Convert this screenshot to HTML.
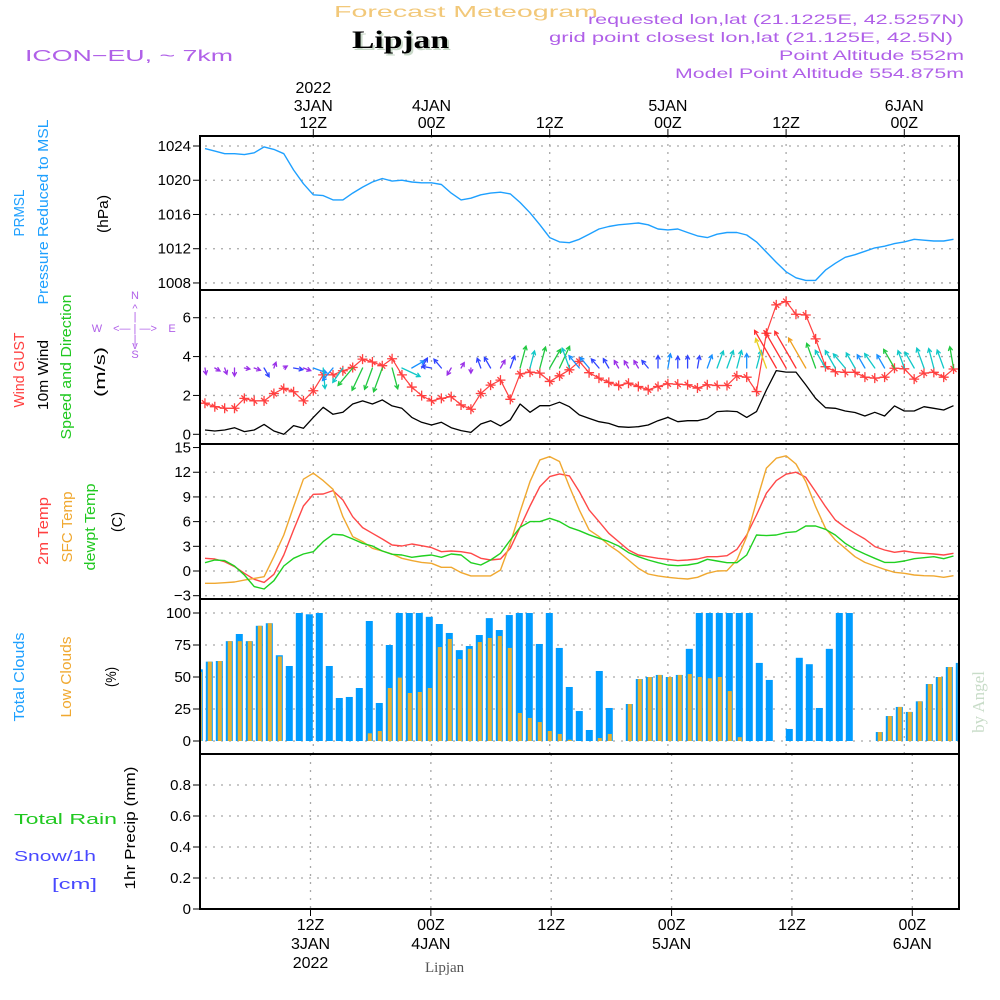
<!DOCTYPE html>
<html><head><meta charset="utf-8"><title>Forecast Meteogram Lipjan</title>
<style>
html,body{margin:0;padding:0;background:#fff;}
svg{display:block;font-family:"Liberation Sans",sans-serif;}
</style></head>
<body>
<svg id="chart" width="1000" height="1000" viewBox="0 0 1000 1000" xmlns="http://www.w3.org/2000/svg">
<g>
<text x="334" y="17" font-size="16" fill="#f2c879" textLength="264" lengthAdjust="spacingAndGlyphs">Forecast Meteogram</text>
<text x="354" y="50" font-size="25" font-weight="bold" font-family="Liberation Serif,serif" fill="#c8d8c8" textLength="97" lengthAdjust="spacingAndGlyphs">Lipjan</text>
<text x="352" y="48" font-size="25" font-weight="bold" font-family="Liberation Serif,serif" fill="#000" textLength="97" lengthAdjust="spacingAndGlyphs">Lipjan</text>
<text x="25" y="61" font-size="16" fill="#b060e8" textLength="208" lengthAdjust="spacingAndGlyphs">ICON−EU, ~ 7km</text>
<text x="588" y="24" font-size="14" fill="#b060e8" textLength="376" lengthAdjust="spacingAndGlyphs">requested lon,lat (21.1225E, 42.5257N)</text>
<text x="549" y="42" font-size="14" fill="#b060e8" textLength="404" lengthAdjust="spacingAndGlyphs">grid point closest lon,lat (21.125E, 42.5N)</text>
<text x="779" y="60" font-size="14" fill="#b060e8" textLength="185" lengthAdjust="spacingAndGlyphs">Point Altitude 552m</text>
<text x="675" y="78" font-size="14" fill="#b060e8" textLength="289" lengthAdjust="spacingAndGlyphs">Model Point Altitude 554.875m</text>
</g>
<g font-size="15">
<text transform="translate(24,213) rotate(-90)" text-anchor="middle" fill="#1ea0ff" textLength="47" lengthAdjust="spacingAndGlyphs">PRMSL</text>
<text transform="translate(48,212) rotate(-90)" text-anchor="middle" fill="#1ea0ff" textLength="185" lengthAdjust="spacingAndGlyphs">Pressure Reduced to MSL</text>
<text transform="translate(108,214) rotate(-90)" text-anchor="middle" fill="#000" textLength="38" lengthAdjust="spacingAndGlyphs">(hPa)</text>
<text transform="translate(24,370) rotate(-90)" text-anchor="middle" fill="#ff4040" textLength="75" lengthAdjust="spacingAndGlyphs">Wind GUST</text>
<text transform="translate(48,375) rotate(-90)" text-anchor="middle" fill="#000" textLength="70" lengthAdjust="spacingAndGlyphs">10m Wind</text>
<text transform="translate(71,367) rotate(-90)" text-anchor="middle" fill="#20c820" textLength="145" lengthAdjust="spacingAndGlyphs">Speed and Direction</text>
<text transform="translate(105,372) rotate(-90)" text-anchor="middle" fill="#000" textLength="50" lengthAdjust="spacingAndGlyphs">(m/s)</text>
<g fill="#b060e8" font-size="11" text-anchor="middle">
<text x="135" y="299">N</text><text x="135" y="312">^</text><text x="135" y="320">|</text>
<text x="97" y="332">W</text><text x="135" y="332">&lt;— | —&gt;</text><text x="172" y="332">E</text>
<text x="135" y="343">|</text><text x="135" y="349">v</text><text x="135" y="358">S</text>
</g>
<text transform="translate(48,531) rotate(-90)" text-anchor="middle" fill="#ff4040" textLength="68" lengthAdjust="spacingAndGlyphs">2m Temp</text>
<text transform="translate(72,527) rotate(-90)" text-anchor="middle" fill="#f0a830" textLength="71" lengthAdjust="spacingAndGlyphs">SFC Temp</text>
<text transform="translate(95,527) rotate(-90)" text-anchor="middle" fill="#20c820" textLength="87" lengthAdjust="spacingAndGlyphs">dewpt Temp</text>
<text transform="translate(122,522) rotate(-90)" text-anchor="middle" fill="#000" textLength="20" lengthAdjust="spacingAndGlyphs">(C)</text>
<text transform="translate(24,677) rotate(-90)" text-anchor="middle" fill="#1ea0ff" textLength="89" lengthAdjust="spacingAndGlyphs">Total Clouds</text>
<text transform="translate(71,677) rotate(-90)" text-anchor="middle" fill="#f0a830" textLength="81" lengthAdjust="spacingAndGlyphs">Low Clouds</text>
<text transform="translate(116,677) rotate(-90)" text-anchor="middle" fill="#000" textLength="20" lengthAdjust="spacingAndGlyphs">(%)</text>
<text x="14" y="824" fill="#20c820" textLength="103" lengthAdjust="spacingAndGlyphs">Total   Rain</text>
<text x="14" y="861" fill="#4848ff" textLength="82" lengthAdjust="spacingAndGlyphs">Snow/1h</text>
<text x="52" y="889" fill="#4848ff" textLength="45" lengthAdjust="spacingAndGlyphs">[cm]</text>
<text transform="translate(135,828) rotate(-90)" text-anchor="middle" fill="#000" textLength="123" lengthAdjust="spacingAndGlyphs">1hr Precip (mm)</text>
</g>
<text transform="translate(984,702) rotate(-90)" text-anchor="middle" font-family="Liberation Serif,serif" font-size="17" fill="#c8dcc8">by Angel</text>
<text x="425" y="972" font-family="Liberation Serif,serif" font-size="15" fill="#555">Lipjan</text>
<g id="plots"></g>
</svg>
<script>
// ---- data (hourly, t = hours after 00Z 3JAN 2022) ----
const hours = [1,2,3,4,5,6,7,8,9,10,11,12,13,14,15,16,17,18,19,20,21,22,23,24,25,26,27,28,29,30,31,32,33,34,35,36,37,38,39,40,41,42,43,44,45,46,47,48,49,50,51,52,53,54,55,56,57,58,59,60,61,62,63,64,65,66,67,68,69,70,71,72,73,74,75,76,77];
const pressure = [1023.7,1023.4,1023.1,1023.1,1023.0,1023.2,1023.9,1023.6,1023.1,1021.2,1019.6,1018.3,1018.2,1017.7,1017.7,1018.5,1019.2,1019.8,1020.2,1019.9,1020.0,1019.8,1019.7,1019.7,1019.5,1018.5,1017.7,1017.9,1018.3,1018.5,1018.6,1018.4,1017.4,1016.2,1014.8,1013.3,1012.8,1012.7,1013.1,1013.7,1014.3,1014.6,1014.8,1014.9,1015.0,1014.8,1014.3,1014.2,1014.3,1013.9,1013.5,1013.3,1013.7,1013.9,1013.9,1013.6,1012.8,1011.6,1010.4,1009.3,1008.6,1008.3,1008.3,1009.5,1010.3,1011.0,1011.3,1011.7,1012.1,1012.3,1012.6,1012.8,1013.1,1013.0,1012.9,1012.9,1013.1];
const wind10 = [0.22,0.17,0.22,0.34,0.14,0.22,0.51,0.17,0,0.45,0.31,0.87,1.39,1.03,1.13,1.56,1.72,1.56,1.77,1.46,1.34,0.87,0.62,0.48,0.62,0.34,0.19,0.1,0.53,0.7,0.43,0.74,1.56,1.13,1.47,1.47,1.65,1.42,1.0,0.82,0.65,0.56,0.39,0.36,0.39,0.48,0.7,0.87,0.65,0.7,0.7,0.82,1.17,1.2,1.17,0.87,1.17,2.28,3.28,3.2,3.2,2.54,1.85,1.37,1.34,1.2,1.12,0.94,1.13,0.94,1.46,1.2,1.2,1.42,1.34,1.25,1.47];
const gust = [1.6,1.42,1.34,1.34,1.85,1.72,1.72,2.1,2.36,2.19,1.72,2.24,3.06,3.06,3.27,3.44,3.87,3.72,3.53,3.89,3.06,2.43,1.99,1.72,1.85,1.94,1.51,1.29,2.1,2.53,2.79,1.8,3.11,3.2,3.15,2.72,3.01,3.32,3.75,3.17,2.89,2.67,2.51,2.63,2.46,2.29,2.46,2.6,2.58,2.55,2.38,2.55,2.51,2.51,3.01,2.94,2.2,5.2,6.66,6.83,6.18,6.14,4.91,3.48,3.22,3.19,3.19,2.94,2.89,2.94,3.4,3.37,2.84,3.15,3.19,2.94,3.36];
const windDir = [170,120,160,180,100,110,150,20,60,100,110,110,175,220,215,220,205,200,200,165,115,60,30,280,320,210,30,180,340,330,30,20,15,15,15,30,25,340,320,320,320,330,330,330,330,320,0,10,0,0,10,20,20,20,15,0,15,340,330,330,330,330,340,330,330,320,330,330,325,330,330,340,330,340,345,340,350];
const temp2m = [1.54,1.46,1.13,0.53,-0.28,-1.01,-1.38,-0.4,1.95,4.99,7.9,9.32,9.36,9.77,8.63,6.6,5.27,4.58,3.89,3.16,3.04,3.28,3.08,2.84,2.35,2.43,2.35,2.15,1.54,1.34,1.46,2.76,5.31,7.9,10.26,11.47,11.8,11.55,9.65,7.42,6.0,4.58,3.57,2.55,1.95,1.74,1.54,1.42,1.26,1.34,1.46,1.74,1.74,1.86,2.63,4.38,6.8,9.45,10.98,11.76,12.0,11.39,9.65,7.82,6.2,5.31,4.58,3.89,2.96,2.55,2.27,2.43,2.23,2.15,2.07,1.95,2.15];
const tempSfc = [-1.5,-1.5,-1.42,-1.34,-1.1,-0.9,-0.69,1.74,4.38,7.82,11.15,11.88,10.98,9.93,6.6,4.18,3.57,2.76,2.43,2.07,1.54,1.26,1.05,0.93,0.45,0.45,-0.2,-0.6,-0.6,-0.6,0.12,3.36,7.2,10.86,13.5,13.9,13.3,10.26,7.42,4.99,4.18,3.16,2.35,1.34,0.32,-0.36,-0.6,-0.77,-0.89,-0.97,-0.77,-0.28,0,0.04,1.34,4.18,8.43,12.5,13.7,14.0,13.0,10.86,7.82,5.19,3.77,2.76,1.74,1.05,0.61,0.2,-0.16,-0.28,-0.49,-0.57,-0.6,-0.77,-0.57];
const dewpt = [1.01,1.34,1.26,0.61,-0.49,-1.9,-2.19,-1.18,0.61,1.54,2.07,2.35,3.57,4.46,4.38,3.89,3.36,3.04,2.43,2.03,1.95,1.66,1.82,1.95,1.66,2.07,1.95,1.01,0.73,1.34,2.15,3.77,5.31,6.0,6.0,6.4,6.0,5.31,4.9,4.4,3.97,3.57,3.04,2.23,1.74,1.34,1.01,0.73,0.65,0.73,0.93,1.42,1.22,1.01,1.01,1.95,4.38,4.3,4.38,4.66,4.78,5.47,5.47,5.07,4.38,3.36,2.63,2.07,1.54,1.05,1.05,1.22,1.5,1.62,1.74,1.5,1.82];
const totalClouds = [56,62,62.5,78,83.6,78,90,92,67,58.6,100,99,100,58.6,33.6,34.4,41.4,93.75,29.7,75,100,100,100,97,91.4,84.4,71,74.2,82.8,96,86.7,98.4,100,100,75.8,100,72.7,42.2,23.4,8.6,54.7,25.8,0,28.9,48.4,50,51.6,50,51.6,72,100,100,100,100,100,100,61,47.7,0,9.4,65,60,25.8,72,100,100,0,0,7,19.5,26.6,22.7,31,44.5,50,57.8,61];
const lowClouds = [54,62,62.5,78,78,78,90,92,66,0,0,0,0,0,0,0,0,6,7.8,41.4,49.5,37.5,38.3,41.4,73.4,79.7,64,72,77.3,80.5,82,72.7,21.9,18,14.8,7.8,5.5,1,0,0,2.3,5.5,0,28.9,48.4,50,51.6,50,51.6,52.3,50,49,50,39,3,0,0,0,0,0,0,0,0,0,0,0,0,0,7,19.5,26.6,22.7,31,44.5,50,57.8,61];
const precip = [0,0,0,0,0,0,0,0,0,0,0,0,0,0,0,0,0,0,0,0,0,0,0,0,0,0,0,0,0,0,0,0,0,0,0,0,0,0,0,0,0,0,0,0,0,0,0,0,0,0,0,0,0,0,0,0,0,0,0,0,0,0,0,0,0,0,0,0,0,0,0,0,0,0,0,0,0];
const pressTicks = [1008,1012,1016,1020,1024];
const windTicks = [0,2,4,6];
const tempTicks = [-3,0,3,6,9,12,15];
const cloudTicks = [0,25,50,75,100];
const precipTicks = [0,0.2,0.4,0.6,0.8];
const precipTickLabels = ["0","0.2","0.4","0.6","0.8"];
const topTimeTicks = [12,24,36,48,60,72];
const topLine1 = ["2022","","","","",""];
const topLine2 = ["3JAN","4JAN","","5JAN","","6JAN"];
const topLine3 = ["12Z","00Z","12Z","00Z","12Z","00Z"];
const botLine2 = ["3JAN","4JAN","","5JAN","","6JAN"];
const botLine3 = ["2022","","","","",""];

// ---- scales ----
const L = 201, R = 959;
function xT(t){ return 313.3 + (t - 12) * 9.85; }
function xBar(t){ return 199.3 + (t - 1) * 10; }
function xBot(t){ return 310.5 + (t - 12) * 10.03; }
function yP(v){ return 146 + (1024 - v) * 8.56; }
function yW(v){ return 434.3 - v * 19.43; }
function yT(v){ return 571 - v * 8.23; }
function yC(v){ return 741 - v * 1.28; }
function yR(v){ return 909 - v * 155; }
const panels = [[136,290],[290,444],[444,599],[599,754],[754,909]];

const NS = "http://www.w3.org/2000/svg";
const root = document.getElementById('plots');
function mk(tag, attrs, parent){
  const e = document.createElementNS(NS, tag);
  for (const k in attrs) e.setAttribute(k, attrs[k]);
  (parent || root).appendChild(e);
  return e;
}
const defs = mk('defs', {});
const cp = mk('clipPath', {id:'plotclip'}, defs);
mk('rect', {x:L, y:136, width:R-L, height:773}, cp);

// grids
const grid = mk('g', {stroke:'#a8a8a8','stroke-width':1.3,'stroke-dasharray':'2 6',fill:'none'});


topTimeTicks.forEach(function(t){
  mk('line', {x1:xT(t), y1:136, x2:xT(t), y2:754}, grid);
  mk('line', {x1:xBot(t), y1:754, x2:xBot(t), y2:909}, grid);
});
function hgrid(ticks, yf){ ticks.forEach(function(v){ mk('line',{x1:L+4,y1:yf(v),x2:R,y2:yf(v)},grid); }); }
hgrid(pressTicks, yP); hgrid(windTicks, yW); hgrid(tempTicks.slice(0,6), yT); hgrid(cloudTicks, yC); hgrid(precipTicks, yR);

// y-axis ticks & labels
function yAxis(ticks, labels, yf, name){
  const g = mk('g', {'font-size':15, fill:'#000', 'text-anchor':'end'});
  
  
  ticks.forEach(function(v,i){
    mk('line', {x1:193, y1:yf(v), x2:200, y2:yf(v), stroke:'#000', 'stroke-width':1}, g);
    const tx = mk('text', {x:191, y:yf(v)+5}, g);
    tx.textContent = labels[i];
  });
}
yAxis(pressTicks, pressTicks.map(String), yP, 'pressure-y-axis');
yAxis(windTicks, windTicks.map(String), yW, 'wind-y-axis');
yAxis(tempTicks, tempTicks.map(function(v){return v<0?'−'+(-v):String(v);}), yT, 'temperature-y-axis');
yAxis(cloudTicks, cloudTicks.map(String), yC, 'cloud-y-axis');
yAxis(precipTicks, precipTickLabels, yR, 'precip-y-axis');

// time axes
const ta = mk('g', {'font-size':16, fill:'#000', 'text-anchor':'middle'});


topTimeTicks.forEach(function(t,i){
  const x = xT(t);
  mk('line', {x1:x, y1:129, x2:x, y2:136, stroke:'#000'}, ta);
  [[topLine1[i],93],[topLine2[i],111],[topLine3[i],128]].forEach(function(p){
    if (!p[0]) return;
    const tx = mk('text', {x:x, y:p[1]}, ta); tx.textContent = p[0];
  });
  const xb = xBot(t);
  mk('line', {x1:xb, y1:909, x2:xb, y2:916, stroke:'#000'}, ta);
  [[topLine3[i],930],[botLine2[i],949],[botLine3[i],968]].forEach(function(p){
    if (!p[0]) return;
    const tx = mk('text', {x:xb, y:p[1]}, ta); tx.textContent = p[0];
  });
});

// cloud bars
const bars = mk('g', {'clip-path':'url(#plotclip)'});


hours.forEach(function(t,i){
  const c = xBar(t);
  if (totalClouds[i] > 0){
    const b = mk('rect', {x:c-3.5, y:yC(totalClouds[i]), width:7, height:741-yC(totalClouds[i]), fill:'#009cff'}, bars);
    
    
  }
  if (lowClouds[i] > 0){
    const b2 = mk('rect', {x:c-1.5, y:yC(lowClouds[i]), width:4, height:741-yC(lowClouds[i]), fill:'#e8b030'}, bars);
    
    
  }
});

// lines
function line(vals, yf, color, name, w){
  const d = hours.map(function(t,i){ return (i?'L':'M') + xT(t).toFixed(1) + ' ' + yf(vals[i]).toFixed(1); }).join(' ');
  const p = mk('path', {d:d, fill:'none', stroke:color, 'stroke-width':w||1.4, 'stroke-linejoin':'round'});
  
  
  return p;
}
line(pressure, yP, '#1ea0ff', 'pressure-line');
line(wind10, yW, '#000', 'wind-10m-line', 1.3);
line(gust, yW, '#ff4040', 'wind-gust-line', 1.2);
line(temp2m, yT, '#ff4848', 'temp-2m-line');
line(tempSfc, yT, '#f0a830', 'temp-sfc-line');
line(dewpt, yT, '#20d020', 'dewpoint-line');
const pl = line(precip, yR, '#000', 'precip-line', 1.5);
pl.setAttribute('stroke-dasharray', '4 2');

// gust markers
const gm = mk('g', {stroke:'#ff4040', 'stroke-width':1.3});


hours.forEach(function(t,i){
  const x = xT(t), y = yW(gust[i]);
  mk('path', {d:'M'+(x-5)+' '+y+'H'+(x+5)+'M'+x+' '+(y-5)+'V'+(y+5)+'M'+(x-3)+' '+(y-3)+'L'+(x+3)+' '+(y+3)}, gm);
});

// wind arrows
function arrowColor(s){
  if (s < 0.45) return '#9a30e8';
  if (s < 0.8) return '#3044ff';
  if (s < 1.05) return '#1890ff';
  if (s < 1.45) return '#10c8c8';
  if (s < 2.0) return '#20c840';
  if (s < 2.4) return '#e8d020';
  if (s < 2.9) return '#f0a020';
  return '#ff3030';
}
const wa = mk('g', {'stroke-width':1.3, fill:'none', 'stroke-linecap':'round'});


hours.forEach(function(t,i){
  const s = wind10[i], a = windDir[i] * Math.PI / 180;
  const len = 4 + s * 12;
  const x0 = xT(t), y0 = 368;
  const x1 = x0 + Math.sin(a) * len, y1 = y0 - Math.cos(a) * len;
  const h = 4, ha = 0.5;
  const hx1 = x1 - Math.sin(a - ha) * h, hy1 = y1 + Math.cos(a - ha) * h;
  const hx2 = x1 - Math.sin(a + ha) * h, hy2 = y1 + Math.cos(a + ha) * h;
  const p = mk('path', {d:'M'+x0.toFixed(1)+' '+y0+'L'+x1.toFixed(1)+' '+y1.toFixed(1)+'M'+hx1.toFixed(1)+' '+hy1.toFixed(1)+'L'+x1.toFixed(1)+' '+y1.toFixed(1)+'L'+hx2.toFixed(1)+' '+hy2.toFixed(1), stroke:arrowColor(s)}, wa);
  
  
});

// frames
const fr = mk('g', {fill:'none', stroke:'#000', 'stroke-width':2});


panels.forEach(function(p){ mk('rect', {x:200, y:p[0], width:R-200, height:p[1]-p[0]}, fr); });
</script>
</body></html>
